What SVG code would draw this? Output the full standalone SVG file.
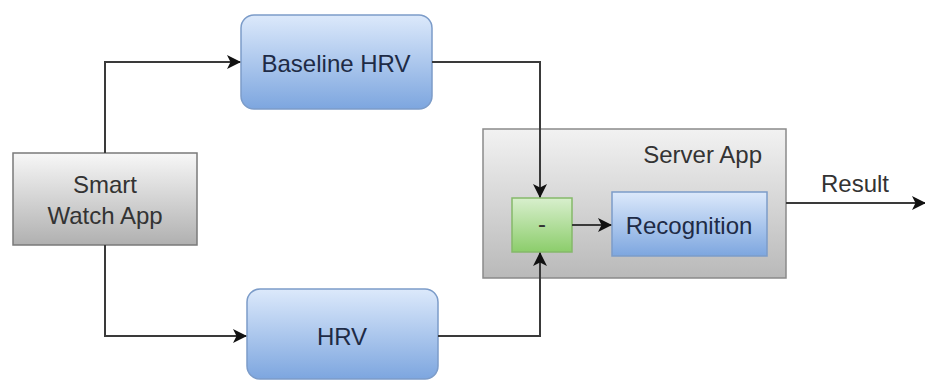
<svg xmlns="http://www.w3.org/2000/svg" width="925" height="380" viewBox="0 0 925 380">
<defs>
<linearGradient id="gBlue" x1="0" y1="0" x2="0" y2="1"><stop offset="0" stop-color="#dce9fb"/><stop offset="1" stop-color="#7da6df"/></linearGradient>
<linearGradient id="gGray" x1="0" y1="0" x2="0" y2="1"><stop offset="0" stop-color="#f7f7f7"/><stop offset="1" stop-color="#b0b0b0"/></linearGradient>
<linearGradient id="gServer" x1="0" y1="0" x2="0" y2="1"><stop offset="0" stop-color="#f2f2f2"/><stop offset="1" stop-color="#b9b9b9"/></linearGradient>
<linearGradient id="gGreen" x1="0" y1="0" x2="0" y2="1"><stop offset="0" stop-color="#d8efcd"/><stop offset="1" stop-color="#8ccd6b"/></linearGradient>
<marker id="arr" viewBox="0 0 14 14" refX="13" refY="7" markerWidth="14" markerHeight="14" markerUnits="userSpaceOnUse" orient="auto">
<path d="M0,0 L14,7 L0,14 L3.5,7 Z" fill="#111"/>
</marker>
<style>
.t{font-family:"Liberation Sans",Arial,sans-serif;font-size:24px;text-anchor:middle}
.tb{fill:#1e2b46}
.tg{fill:#333}
.blue{fill:url(#gBlue);stroke:#7c9cc9;stroke-width:1.5}
.gray{fill:url(#gGray);stroke:#7a7a7a;stroke-width:1.5}
.srv{fill:url(#gServer);stroke:#8a8a8a;stroke-width:1.5}
.grn{fill:url(#gGreen);stroke:#85b96a;stroke-width:1.5}
.c{fill:none;stroke:#3a3a3a;stroke-width:2;marker-end:url(#arr)}
</style>
</defs>
<g id="server-app">
<rect class="srv" x="483" y="129" width="303" height="149"/>
<text class="t tg" x="762" y="163" style="text-anchor:end">Server App</text>
</g>
<g id="smart-watch-app">
<rect class="gray" x="13" y="153" width="184" height="92"/>
<text class="t tg" x="105" y="193">Smart</text>
<text class="t tg" x="105" y="224">Watch App</text>
</g>
<g id="baseline-hrv">
<rect class="blue" x="241" y="15" width="191" height="94" rx="13"/>
<text class="t tb" x="336" y="72">Baseline HRV</text>
</g>
<g id="hrv">
<rect class="blue" x="247" y="289" width="191" height="90" rx="13"/>
<text class="t tb" x="342" y="345">HRV</text>
</g>
<g id="minus">
<rect class="grn" x="512" y="198" width="60" height="54"/>
<text class="t tg" x="542" y="232">-</text>
</g>
<g id="recognition">
<rect class="blue" x="612" y="192" width="155" height="64"/>
<text class="t tb" x="689" y="234">Recognition</text>
</g>
<g id="connectors">
<path class="c" d="M105,153 V62 H240"/>
<path class="c" d="M105,245 V336 H246"/>
<path class="c" d="M432,62 H540 V197"/>
<path class="c" d="M438,336 H540 V253"/>
<path class="c" d="M572,225 H611"/>
<path class="c" d="M786,203 H925"/>
<text class="t tg" x="855" y="192">Result</text>
</g>
</svg>
